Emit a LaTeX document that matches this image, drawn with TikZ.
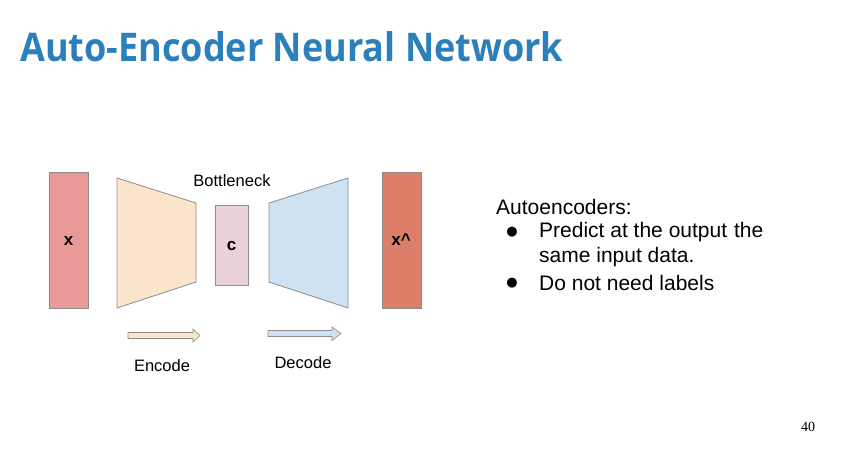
\documentclass[tikz,border=0pt]{standalone}
\usepackage{fontspec}
\setmainfont{Liberation Sans}
\newfontfamily\titlefont{Open Sans}
\newfontfamily\numfont{Liberation Serif}
\newfontfamily\dejavu{DejaVu Sans}
\definecolor{titleblue}{HTML}{2B7FBA}
\definecolor{xfill}{HTML}{EA9999}
\definecolor{xhatfill}{HTML}{DD7E6B}
\definecolor{encfill}{HTML}{FCE5CD}
\definecolor{decfill}{HTML}{CFE2F3}
\definecolor{cfill}{HTML}{EAD1DC}
\definecolor{edge}{HTML}{8C8C8C}
\begin{document}
\begin{tikzpicture}[x=1pt,y=-1pt,
  block/.style={draw=edge,line width=0.8pt},
  lbl/.style={font=\fontsize{16.5}{18}\selectfont,text=black,inner sep=0pt},
  boldlbl/.style={font=\fontsize{17}{18}\selectfont\bfseries,text=black,inner sep=0pt},
  body/.style={font=\fontsize{21}{25}\selectfont,text=black,inner sep=0pt,anchor=west},
  bul/.style={font=\dejavu\fontsize{13}{15}\selectfont,text=black,inner sep=0pt}]
\useasboundingbox[fill=white] (0,0) rectangle (847,475);
% title
\node[anchor=west,inner sep=0pt,text=titleblue] (title) at (20,47)
  {\resizebox{543pt}{30pt}{\titlefont\bfseries Auto-Encoder Neural Network}};
% blocks
\filldraw[block,fill=xfill] (49,172) rectangle (88,308);
\node[boldlbl] (x) at (68.5,241) {x};
\filldraw[block,fill=encfill] (117,178) -- (196,203) -- (196,282) -- (117,308) -- cycle;
\filldraw[block,fill=cfill] (215,205) rectangle (248,285);
\node[boldlbl] (c) at (231.5,246) {c};
\node[lbl] (bn) at (232,181) {Bottleneck};
\filldraw[block,fill=decfill] (269,203) -- (348,178) -- (348,308) -- (269,282) -- cycle;
\filldraw[block,fill=xhatfill] (382,172) rectangle (421,308);
\node[boldlbl] (xh) at (401,240) {x\^{}};
% arrows
\filldraw[block,line width=0.6pt,fill=encfill] (128,332.5) -- (193,332.5) -- (193,329) -- (200,335.5) -- (193,342) -- (193,338.5) -- (128,338.5) -- cycle;
\filldraw[block,line width=0.6pt,fill=decfill] (268,330.5) -- (332,330.5) -- (332,327) -- (341,333.5) -- (332,340.5) -- (332,336.5) -- (268,336.5) -- cycle;
\node[lbl] (enc) at (162,366) {Encode};
\node[lbl] (dec) at (303,363) {Decode};
% text
\node[body] (t0) at (496,207) {Autoencoders:};
\node[bul] (b1) at (512,232) {●};
\node[body] (t1) at (539,232) {Predict at the output\hspace{0.05em} the};
\node[body] (t2) at (539,257) {same input data.};
\node[bul] (b2) at (512,283) {●};
\node[body] (t3) at (539,283) {Do not need labels};
% page number
\node[inner sep=0pt,font=\numfont\fontsize{14}{16}\selectfont] (pg) at (808,427) {40};
\end{tikzpicture}
\end{document}
